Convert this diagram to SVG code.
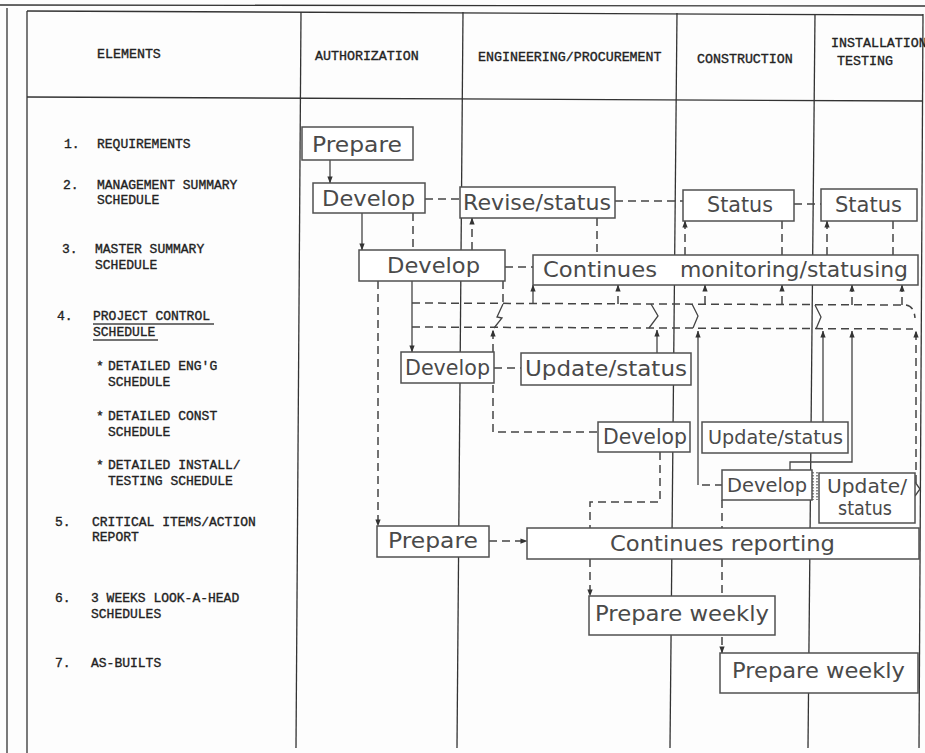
<svg xmlns="http://www.w3.org/2000/svg" width="925" height="753" viewBox="0 0 925 753">
<style>
.grid{stroke:#333;stroke-width:1.3;fill:none}
.hdr{font-family:"Liberation Mono",monospace;font-size:13.3px;fill:#222;stroke:#222;stroke-width:0.35}
.el{font-family:"Liberation Mono",monospace;font-size:13px;fill:#222;stroke:#222;stroke-width:0.35}
.box{fill:#fff;stroke:#505050;stroke-width:1.5}
.bt{font-family:"DejaVu Sans","Liberation Sans",sans-serif;font-size:22px;fill:#4a4a4a}
.sm{font-size:19px}
.s{stroke:#444;stroke-width:1.3;fill:none}
.d{stroke:#444;stroke-width:1.5;fill:none;stroke-dasharray:8 5}
</style>
<defs>
<marker id="ah" viewBox="0 0 8 8" refX="7.5" refY="4" markerWidth="7" markerHeight="7" markerUnits="userSpaceOnUse" orient="auto"><path d="M0,1 L8,4 L0,7 z" fill="#333"/></marker>
</defs>
<rect width="925" height="753" fill="#fdfdfd"/>
<g id="table">
<line class="grid" x1="0" y1="5" x2="925" y2="6" stroke="#aaa" stroke-width="1"/>
<line class="grid" x1="7" y1="8" x2="7" y2="753"/>
<line class="grid" x1="27" y1="11" x2="27" y2="753"/>
<line class="grid" x1="27" y1="11" x2="923" y2="15" stroke-width="2.2"/>
<line class="grid" x1="27" y1="97" x2="923" y2="101"/>
<line class="grid" x1="301" y1="12" x2="296" y2="748"/>
<line class="grid" x1="463" y1="12" x2="457" y2="748"/>
<line class="grid" x1="677" y1="13" x2="670" y2="748"/>
<line class="grid" x1="815" y1="14" x2="808" y2="748"/>
<line class="grid" x1="923" y1="14" x2="919" y2="748"/>
<text class="hdr" x="97" y="58">ELEMENTS</text>
<text class="hdr" x="315" y="60">AUTHORIZATION</text>
<text class="hdr" x="478" y="61">ENGINEERING/PROCUREMENT</text>
<text class="hdr" x="697" y="63">CONSTRUCTION</text>
<text class="hdr" x="831" y="47">INSTALLATION</text>
<text class="hdr" x="837" y="65">TESTING</text>
</g>
<g id="elements">
<text class="el" x="64" y="148">1.</text><text class="el" x="97" y="148">REQUIREMENTS</text>
<text class="el" x="63" y="189">2.</text><text class="el" x="97" y="189">MANAGEMENT SUMMARY</text>
<text class="el" x="97" y="204">SCHEDULE</text>
<text class="el" x="62" y="253">3.</text><text class="el" x="95" y="253">MASTER SUMMARY</text>
<text class="el" x="95" y="269">SCHEDULE</text>
<text class="el" x="57" y="320">4.</text><text class="el" x="93" y="320">PROJECT CONTROL</text>
<text class="el" x="93" y="336">SCHEDULE</text>
<line class="s" x1="93" y1="324" x2="214" y2="324"/>
<line class="s" x1="93" y1="340" x2="158" y2="340"/>
<text class="el" x="96" y="370">*</text><text class="el" x="108" y="370">DETAILED ENG'G</text>
<text class="el" x="108" y="386">SCHEDULE</text>
<text class="el" x="96" y="420">*</text><text class="el" x="108" y="420">DETAILED CONST</text>
<text class="el" x="108" y="436">SCHEDULE</text>
<text class="el" x="96" y="469">*</text><text class="el" x="108" y="469">DETAILED INSTALL/</text>
<text class="el" x="108" y="485">TESTING SCHEDULE</text>
<text class="el" x="55" y="526">5.</text><text class="el" x="92" y="526">CRITICAL ITEMS/ACTION</text>
<text class="el" x="92" y="541">REPORT</text>
<text class="el" x="55" y="602">6.</text><text class="el" x="91" y="602">3 WEEKS LOOK-A-HEAD</text>
<text class="el" x="91" y="618">SCHEDULES</text>
<text class="el" x="55" y="667">7.</text><text class="el" x="91" y="667">AS-BUILTS</text>
</g>
<g id="connectors">
<path class="s" d="M330,160 V183" marker-end="url(#ah)"/>
<path class="d" d="M425,199 H460"/>
<path class="d" d="M615,201 H683"/>
<path class="d" d="M794,204 H821"/>
<path class="s" d="M362,213 V250" marker-end="url(#ah)"/>
<path class="d" d="M413,213 V250"/>
<path class="d" d="M472,250 V218" marker-end="url(#ah)"/>
<path class="d" d="M597,218 V255"/>
<path class="d" d="M685,255 V221" marker-end="url(#ah)"/>
<path class="d" d="M782,221 V255"/>
<path class="d" d="M827,255 V221" marker-end="url(#ah)"/>
<path class="d" d="M893,221 V255"/>
<path class="d" d="M505,267 H533"/>
<path class="d" d="M378,281 V526" marker-end="url(#ah)"/>
<path class="s" d="M412,281 V352" marker-end="url(#ah)"/>
<path class="d" d="M412,303 L906,305 Q914,306 915,318"/>
<path class="d" d="M412,327 L913,329"/>
<path class="d" d="M503,281 V303"/>
<path class="s" d="M503,304 L497,317 L502,318 L494,328"/>
<path class="d" d="M493,352 V330" marker-end="url(#ah)"/>
<path class="d" d="M597,432 H493 V383"/>
<path class="s" d="M533,303 V285" marker-end="url(#ah)"/>
<path class="d" d="M618,304 V285" marker-end="url(#ah)"/>
<path class="s" d="M651,304 L658,316 L649,328"/>
<path class="s" d="M657,353 V330" marker-end="url(#ah)"/>
<path class="s" d="M692,304 L698,316 L693,328"/>
<path class="d" d="M705,304 V285" marker-end="url(#ah)"/>
<path class="d" d="M782,304 V285" marker-end="url(#ah)"/>
<path class="s" d="M815,305 L821,317 L816,329"/>
<path class="d" d="M852,305 V285" marker-end="url(#ah)"/>
<path class="d" d="M902,305 V285" marker-end="url(#ah)"/>
<path class="d" d="M723,485 H698"/>
<path class="s" d="M698,485 V331" marker-end="url(#ah)"/>
<path class="s" d="M823,422 V331" marker-end="url(#ah)"/>
<path class="s" d="M790,470 V462 H852 V331" marker-end="url(#ah)"/>
<path class="d" d="M916,483 V331" marker-end="url(#ah)"/>
<path class="s" d="M915,482 L920,489 L915,496"/>
<path class="d" d="M494,368 H521"/>
<path class="d" d="M660,452 V502 H590 V528"/>
<path class="d" d="M590,559 V596" marker-end="url(#ah)"/>
<path class="d" d="M722,500 V528"/>
<path class="d" d="M722,559 V653" marker-end="url(#ah)"/>
<path class="d" d="M489,541 H527" marker-end="url(#ah)"/>
<path d="M813,472 V500 M817,472 V500" stroke="#666" stroke-width="1.5" stroke-dasharray="1.5 1.5" fill="none"/>
</g>
<g id="prepare-req"><rect class="box" x="302" y="127" width="111" height="33"/><text class="bt" x="312" y="152" textLength="90" lengthAdjust="spacingAndGlyphs">Prepare</text></g>
<g id="develop-mgmt"><rect class="box" x="313" y="183" width="112" height="30"/><text class="bt" x="322" y="206" textLength="93" lengthAdjust="spacingAndGlyphs">Develop</text></g>
<g id="revise-status"><rect class="box" x="460" y="187" width="155" height="31"/><text class="bt" x="463" y="210" textLength="148" lengthAdjust="spacingAndGlyphs">Revise/status</text></g>
<g id="status-const"><rect class="box" x="683" y="190" width="111" height="31"/><text class="bt" x="707" y="212" textLength="66" lengthAdjust="spacingAndGlyphs">Status</text></g>
<g id="status-inst"><rect class="box" x="821" y="189" width="96" height="32"/><text class="bt" x="835" y="212" textLength="67" lengthAdjust="spacingAndGlyphs">Status</text></g>
<g id="develop-master"><rect class="box" x="359" y="250" width="146" height="31"/><text class="bt" x="387" y="273" textLength="93" lengthAdjust="spacingAndGlyphs">Develop</text></g>
<g id="continues-monitoring"><rect class="box" x="533" y="255" width="385" height="30"/><text class="bt" y="277"><tspan x="543" textLength="114" lengthAdjust="spacingAndGlyphs">Continues</tspan><tspan x="680" textLength="228" lengthAdjust="spacingAndGlyphs">monitoring/statusing</tspan></text></g>
<g id="develop-eng"><rect class="box" x="401" y="352" width="93" height="31"/><text class="bt" x="405" y="375" textLength="85" lengthAdjust="spacingAndGlyphs">Develop</text></g>
<g id="update-eng"><rect class="box" x="521" y="353" width="170" height="32"/><text class="bt" x="525" y="376" textLength="162" lengthAdjust="spacingAndGlyphs">Update/status</text></g>
<g id="develop-const"><rect class="box" x="598" y="422" width="92" height="30"/><text class="bt" x="603" y="444" textLength="84" lengthAdjust="spacingAndGlyphs">Develop</text></g>
<g id="update-const"><rect class="box" x="702" y="422" width="146" height="31"/><text class="bt sm" x="708" y="444" textLength="135" lengthAdjust="spacingAndGlyphs">Update/status</text></g>
<g id="develop-inst"><rect class="box" x="722" y="470" width="90" height="30"/><text class="bt sm" x="727" y="492" textLength="80" lengthAdjust="spacingAndGlyphs">Develop</text></g>
<g id="update-inst"><rect class="box" x="819" y="473" width="96" height="50"/><text class="bt sm" x="827" y="493" textLength="80" lengthAdjust="spacingAndGlyphs">Update/</text><text class="bt sm" x="838" y="515" textLength="54" lengthAdjust="spacingAndGlyphs">status</text></g>
<g id="prepare-crit"><rect class="box" x="377" y="526" width="112" height="31"/><text class="bt" x="388" y="548" textLength="90" lengthAdjust="spacingAndGlyphs">Prepare</text></g>
<g id="continues-reporting"><rect class="box" x="527" y="528" width="392" height="31"/><text class="bt" x="610" y="551" textLength="225" lengthAdjust="spacingAndGlyphs">Continues reporting</text></g>
<g id="prepare-weekly-1"><rect class="box" x="589" y="596" width="186" height="39"/><text class="bt" x="595" y="621" textLength="174" lengthAdjust="spacingAndGlyphs">Prepare weekly</text></g>
<g id="prepare-weekly-2"><rect class="box" x="720" y="653" width="198" height="40"/><text class="bt" x="732" y="678" textLength="173" lengthAdjust="spacingAndGlyphs">Prepare weekly</text></g>
</svg>
